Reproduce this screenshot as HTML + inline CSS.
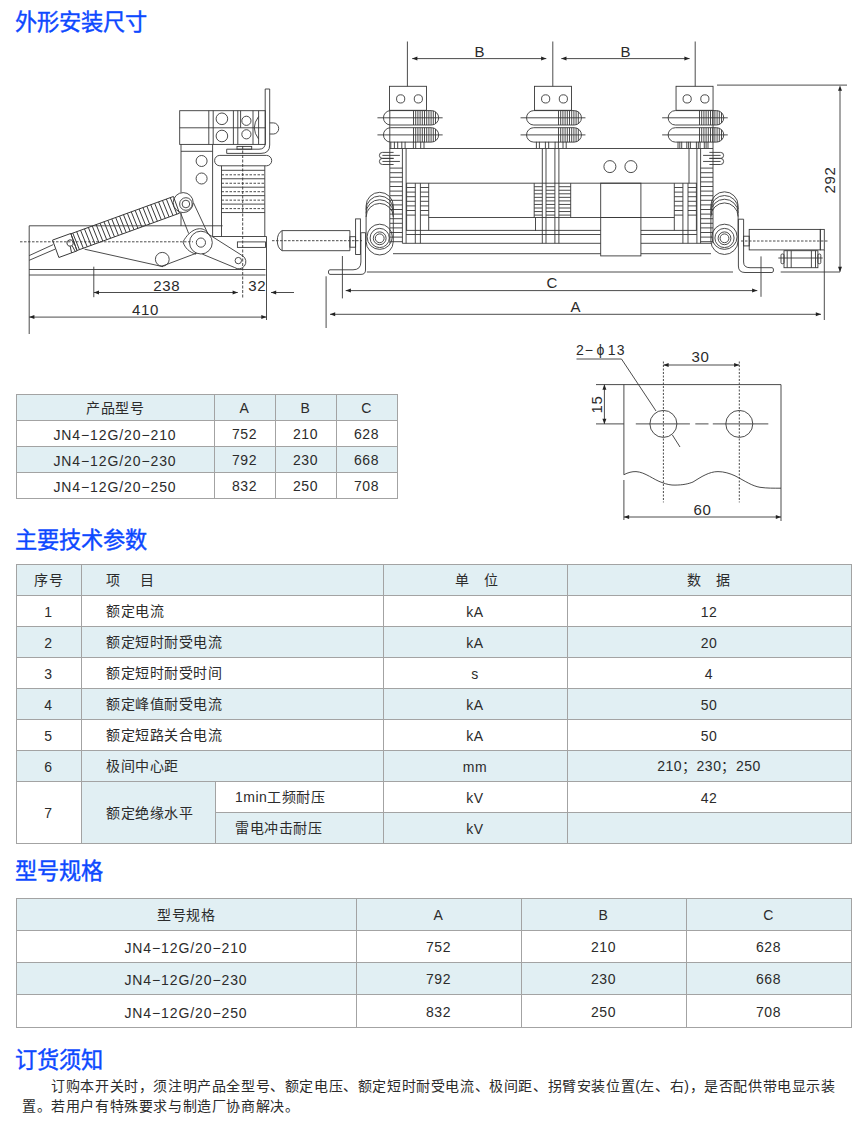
<!DOCTYPE html>
<html lang="zh-CN"><head><meta charset="utf-8"><style>
html,body{margin:0;padding:0;background:#fff;}
body{width:867px;height:1122px;position:relative;overflow:hidden;font-family:"Liberation Sans",sans-serif;}
.h{position:absolute;font-size:22.2px;line-height:26px;color:#0d48ff;white-space:nowrap;letter-spacing:0px;-webkit-text-stroke:0.4px #0d48ff}
.t{position:absolute;display:flex;align-items:center;font-size:14px;color:#2b2b2b;white-space:nowrap;letter-spacing:0.5px}
.l{letter-spacing:0.9px;position:relative;top:1px}
.p{position:absolute;font-size:14px;line-height:20px;color:#2b2b2b;white-space:nowrap;letter-spacing:0.6px}
svg{position:absolute;left:0;top:0} svg text{fill:#2a2a2a;stroke:none}
</style></head><body>
<div class="h" style="left:15px;top:10px">外形安装尺寸</div><div class="h" style="left:15px;top:528px">主要技术参数</div><div class="h" style="left:15px;top:859px">型号规格</div><div class="h" style="left:15px;top:1048px">订货须知</div><div style="position:absolute;left:16px;top:394px;width:381px;height:26px;background:#e1eff3"></div><div style="position:absolute;left:16px;top:420px;width:381px;height:26px;background:#fff"></div><div style="position:absolute;left:16px;top:446px;width:381px;height:26px;background:#e1eff3"></div><div style="position:absolute;left:16px;top:472px;width:381px;height:26px;background:#fff"></div><div style="position:absolute;left:16px;top:394px;width:382px;height:1px;background:#a3a3a3"></div><div style="position:absolute;left:16px;top:420px;width:382px;height:1px;background:#a3a3a3"></div><div style="position:absolute;left:16px;top:446px;width:382px;height:1px;background:#a3a3a3"></div><div style="position:absolute;left:16px;top:472px;width:382px;height:1px;background:#a3a3a3"></div><div style="position:absolute;left:16px;top:498px;width:382px;height:1px;background:#a3a3a3"></div><div style="position:absolute;left:16px;top:394px;width:1px;height:105px;background:#a3a3a3"></div><div style="position:absolute;left:214px;top:394px;width:1px;height:105px;background:#a3a3a3"></div><div style="position:absolute;left:275px;top:394px;width:1px;height:105px;background:#a3a3a3"></div><div style="position:absolute;left:336px;top:394px;width:1px;height:105px;background:#a3a3a3"></div><div style="position:absolute;left:397px;top:394px;width:1px;height:105px;background:#a3a3a3"></div><div class="t" style="left:16px;top:393.5px;width:198px;height:26.0px;justify-content:center">产品型号</div><div class="t" style="left:214px;top:395px;width:61px;height:26px;justify-content:center">A</div><div class="t" style="left:275px;top:395px;width:61px;height:26px;justify-content:center">B</div><div class="t" style="left:336px;top:395px;width:61px;height:26px;justify-content:center">C</div><div class="t" style="left:16px;top:421px;width:198px;height:26px;justify-content:center"><span class="l">JN4−12G/20−210</span></div><div class="t" style="left:214px;top:421px;width:61px;height:26px;justify-content:center">752</div><div class="t" style="left:275px;top:421px;width:61px;height:26px;justify-content:center">210</div><div class="t" style="left:336px;top:421px;width:61px;height:26px;justify-content:center">628</div><div class="t" style="left:16px;top:447px;width:198px;height:26px;justify-content:center"><span class="l">JN4−12G/20−230</span></div><div class="t" style="left:214px;top:447px;width:61px;height:26px;justify-content:center">792</div><div class="t" style="left:275px;top:447px;width:61px;height:26px;justify-content:center">230</div><div class="t" style="left:336px;top:447px;width:61px;height:26px;justify-content:center">668</div><div class="t" style="left:16px;top:473px;width:198px;height:26px;justify-content:center"><span class="l">JN4−12G/20−250</span></div><div class="t" style="left:214px;top:473px;width:61px;height:26px;justify-content:center">832</div><div class="t" style="left:275px;top:473px;width:61px;height:26px;justify-content:center">250</div><div class="t" style="left:336px;top:473px;width:61px;height:26px;justify-content:center">708</div><div style="position:absolute;left:16px;top:564px;width:835px;height:31px;background:#e1eff3"></div><div style="position:absolute;left:16px;top:595px;width:835px;height:31px;background:#fff"></div><div style="position:absolute;left:16px;top:626px;width:835px;height:31px;background:#e1eff3"></div><div style="position:absolute;left:16px;top:657px;width:835px;height:31px;background:#fff"></div><div style="position:absolute;left:16px;top:688px;width:835px;height:31px;background:#e1eff3"></div><div style="position:absolute;left:16px;top:719px;width:835px;height:31px;background:#fff"></div><div style="position:absolute;left:16px;top:750px;width:835px;height:31px;background:#e1eff3"></div><div style="position:absolute;left:16px;top:781px;width:65px;height:62px;background:#fff"></div><div style="position:absolute;left:81px;top:781px;width:134px;height:62px;background:#e1eff3"></div><div style="position:absolute;left:215px;top:781px;width:636px;height:31px;background:#fff"></div><div style="position:absolute;left:215px;top:812px;width:636px;height:31px;background:#e1eff3"></div><div style="position:absolute;left:16px;top:564px;width:836px;height:1px;background:#a3a3a3"></div><div style="position:absolute;left:16px;top:595px;width:836px;height:1px;background:#a3a3a3"></div><div style="position:absolute;left:16px;top:626px;width:836px;height:1px;background:#a3a3a3"></div><div style="position:absolute;left:16px;top:657px;width:836px;height:1px;background:#a3a3a3"></div><div style="position:absolute;left:16px;top:688px;width:836px;height:1px;background:#a3a3a3"></div><div style="position:absolute;left:16px;top:719px;width:836px;height:1px;background:#a3a3a3"></div><div style="position:absolute;left:16px;top:750px;width:836px;height:1px;background:#a3a3a3"></div><div style="position:absolute;left:16px;top:781px;width:836px;height:1px;background:#a3a3a3"></div><div style="position:absolute;left:215px;top:812px;width:637px;height:1px;background:#a3a3a3"></div><div style="position:absolute;left:16px;top:843px;width:836px;height:1px;background:#a3a3a3"></div><div style="position:absolute;left:16px;top:564px;width:1px;height:280px;background:#a3a3a3"></div><div style="position:absolute;left:81px;top:564px;width:1px;height:280px;background:#a3a3a3"></div><div style="position:absolute;left:383px;top:564px;width:1px;height:280px;background:#a3a3a3"></div><div style="position:absolute;left:567px;top:564px;width:1px;height:280px;background:#a3a3a3"></div><div style="position:absolute;left:851px;top:564px;width:1px;height:280px;background:#a3a3a3"></div><div style="position:absolute;left:215px;top:781px;width:1px;height:63px;background:#a3a3a3"></div><div class="t" style="left:16px;top:563.5px;width:65px;height:31.0px;justify-content:center">序号</div><div class="t" style="left:106px;top:563.5px;width:277px;height:31.0px;justify-content:flex-start">项<span style="margin-left:5px">　目</span></div><div class="t" style="left:383px;top:563.5px;width:184px;height:31.0px;justify-content:center"><span style="margin-left:3px">单</span>　位</div><div class="t" style="left:567px;top:563.5px;width:284px;height:31.0px;justify-content:center">数　据</div><div class="t" style="left:16px;top:596px;width:65px;height:31px;justify-content:center">1</div><div class="t" style="left:106px;top:594.5px;width:277px;height:31.0px;justify-content:flex-start">额定电流</div><div class="t" style="left:383px;top:596px;width:184px;height:31px;justify-content:center">kA</div><div class="t" style="left:567px;top:596px;width:284px;height:31px;justify-content:center">12</div><div class="t" style="left:16px;top:627px;width:65px;height:31px;justify-content:center">2</div><div class="t" style="left:106px;top:625.5px;width:277px;height:31.0px;justify-content:flex-start">额定短时耐受电流</div><div class="t" style="left:383px;top:627px;width:184px;height:31px;justify-content:center">kA</div><div class="t" style="left:567px;top:627px;width:284px;height:31px;justify-content:center">20</div><div class="t" style="left:16px;top:658px;width:65px;height:31px;justify-content:center">3</div><div class="t" style="left:106px;top:656.5px;width:277px;height:31.0px;justify-content:flex-start">额定短时耐受时间</div><div class="t" style="left:383px;top:658px;width:184px;height:31px;justify-content:center">s</div><div class="t" style="left:567px;top:658px;width:284px;height:31px;justify-content:center">4</div><div class="t" style="left:16px;top:689px;width:65px;height:31px;justify-content:center">4</div><div class="t" style="left:106px;top:687.5px;width:277px;height:31.0px;justify-content:flex-start">额定峰值耐受电流</div><div class="t" style="left:383px;top:689px;width:184px;height:31px;justify-content:center">kA</div><div class="t" style="left:567px;top:689px;width:284px;height:31px;justify-content:center">50</div><div class="t" style="left:16px;top:720px;width:65px;height:31px;justify-content:center">5</div><div class="t" style="left:106px;top:718.5px;width:277px;height:31.0px;justify-content:flex-start">额定短路关合电流</div><div class="t" style="left:383px;top:720px;width:184px;height:31px;justify-content:center">kA</div><div class="t" style="left:567px;top:720px;width:284px;height:31px;justify-content:center">50</div><div class="t" style="left:16px;top:751px;width:65px;height:31px;justify-content:center">6</div><div class="t" style="left:106px;top:749.5px;width:277px;height:31.0px;justify-content:flex-start">极间中心距</div><div class="t" style="left:383px;top:751px;width:184px;height:31px;justify-content:center">mm</div><div class="t" style="left:567px;top:749.5px;width:284px;height:31.0px;justify-content:center">210；230；250</div><div class="t" style="left:16px;top:782px;width:65px;height:62px;justify-content:center">7</div><div class="t" style="left:106px;top:780.5px;width:109px;height:62.0px;justify-content:flex-start">额定绝缘水平</div><div class="t" style="left:235px;top:780.5px;width:148px;height:31.0px;justify-content:flex-start">1min工频耐压</div><div class="t" style="left:235px;top:811.5px;width:148px;height:31.0px;justify-content:flex-start">雷电冲击耐压</div><div class="t" style="left:383px;top:782px;width:184px;height:31px;justify-content:center">kV</div><div class="t" style="left:383px;top:813px;width:184px;height:31px;justify-content:center">kV</div><div class="t" style="left:567px;top:782px;width:284px;height:31px;justify-content:center">42</div><div style="position:absolute;left:16px;top:898px;width:835px;height:32px;background:#e1eff3"></div><div style="position:absolute;left:16px;top:930px;width:835px;height:32px;background:#fff"></div><div style="position:absolute;left:16px;top:962px;width:835px;height:32px;background:#e1eff3"></div><div style="position:absolute;left:16px;top:994px;width:835px;height:33px;background:#fff"></div><div style="position:absolute;left:16px;top:898px;width:836px;height:1px;background:#a3a3a3"></div><div style="position:absolute;left:16px;top:930px;width:836px;height:1px;background:#a3a3a3"></div><div style="position:absolute;left:16px;top:962px;width:836px;height:1px;background:#a3a3a3"></div><div style="position:absolute;left:16px;top:994px;width:836px;height:1px;background:#a3a3a3"></div><div style="position:absolute;left:16px;top:1027px;width:836px;height:1px;background:#a3a3a3"></div><div style="position:absolute;left:16px;top:898px;width:1px;height:130px;background:#a3a3a3"></div><div style="position:absolute;left:356px;top:898px;width:1px;height:130px;background:#a3a3a3"></div><div style="position:absolute;left:521px;top:898px;width:1px;height:130px;background:#a3a3a3"></div><div style="position:absolute;left:686px;top:898px;width:1px;height:130px;background:#a3a3a3"></div><div style="position:absolute;left:851px;top:898px;width:1px;height:130px;background:#a3a3a3"></div><div class="t" style="left:16px;top:897.5px;width:340px;height:32.0px;justify-content:center">型号规格</div><div class="t" style="left:356px;top:899px;width:165px;height:32px;justify-content:center">A</div><div class="t" style="left:521px;top:899px;width:165px;height:32px;justify-content:center">B</div><div class="t" style="left:686px;top:899px;width:165px;height:32px;justify-content:center">C</div><div class="t" style="left:16px;top:931px;width:340px;height:32px;justify-content:center"><span class="l">JN4−12G/20−210</span></div><div class="t" style="left:356px;top:931px;width:165px;height:32px;justify-content:center">752</div><div class="t" style="left:521px;top:931px;width:165px;height:32px;justify-content:center">210</div><div class="t" style="left:686px;top:931px;width:165px;height:32px;justify-content:center">628</div><div class="t" style="left:16px;top:963px;width:340px;height:32px;justify-content:center"><span class="l">JN4−12G/20−230</span></div><div class="t" style="left:356px;top:963px;width:165px;height:32px;justify-content:center">792</div><div class="t" style="left:521px;top:963px;width:165px;height:32px;justify-content:center">230</div><div class="t" style="left:686px;top:963px;width:165px;height:32px;justify-content:center">668</div><div class="t" style="left:16px;top:995px;width:340px;height:33px;justify-content:center"><span class="l">JN4−12G/20−250</span></div><div class="t" style="left:356px;top:995px;width:165px;height:33px;justify-content:center">832</div><div class="t" style="left:521px;top:995px;width:165px;height:33px;justify-content:center">250</div><div class="t" style="left:686px;top:995px;width:165px;height:33px;justify-content:center">708</div><div class="p" style="left:22px;top:1076px">　　订购本开关时，须注明产品全型号、额定电压、额定短时耐受电流、极间距、拐臂安装位置(左、右)，是否配供带电显示装<br>置。若用户有特殊要求与制造厂协商解决。</div><svg width="867" height="1122" viewBox="0 0 867 1122"><g fill="none" stroke="#383838" stroke-width="0.9" font-family="Liberation Sans, sans-serif">
<g class="txt"></g><text x="576" y="354.5" font-size="14"><tspan>2</tspan><tspan dx="1">−</tspan><tspan dx="3.5">ϕ</tspan><tspan dx="3.5">1</tspan><tspan dx="1">3</tspan></text>
<line x1="576.5" y1="359" x2="621.5" y2="359"/>
<line x1="621.5" y1="359" x2="656" y2="411"/>
<line x1="672.4" y1="435" x2="680" y2="447"/>
<line x1="596" y1="384.6" x2="781" y2="384.6"/>
<line x1="623.9" y1="384.6" x2="623.9" y2="474.8"/>
<line x1="623.9" y1="480" x2="623.9" y2="520"/>
<line x1="781" y1="384.6" x2="781" y2="521"/>
<path d="M623.9,474.7 C628,472.5 632,471.5 636,471.6 C645,472 654,480 662,482.5 C667,484.5 671,485.2 675,485.1 C683,485 688,484 693,482 C701,477 709,471.6 718,471.6 C724,471.6 730,473.5 735,475.8 C745,481 752,486 760,487.3 C767,488.3 774,488.2 781,488.2"/>
<line x1="635.8" y1="423.9" x2="689.9" y2="423.9"/>
<line x1="695.3" y1="423.9" x2="708.5" y2="423.9"/>
<line x1="712.8" y1="423.9" x2="768.3" y2="423.9"/>
<circle cx="663.4" cy="423.9" r="13.5"/>
<circle cx="739.3" cy="423.9" r="13.5"/>
<line x1="663.4" y1="361.5" x2="663.4" y2="502.4" stroke-dasharray="2,1.5"/>
<line x1="739.3" y1="361.5" x2="739.3" y2="502.4" stroke-dasharray="2,1.5"/>
<line x1="663.4" y1="365" x2="739.3" y2="365"/>
<polygon points="663.4,365 668.6,363 668.6,367" fill="#222" stroke="none"/>
<polygon points="739.3,365 734.1,363 734.1,367" fill="#222" stroke="none"/>
<text x="700.5" y="361.5" font-size="15" text-anchor="middle" letter-spacing="0.6">30</text>
<line x1="596" y1="423.9" x2="623.9" y2="423.9"/>
<line x1="604.4" y1="384.6" x2="604.4" y2="423.9"/>
<polygon points="604.4,384.6 602.4,389.8 606.4,389.8" fill="#222" stroke="none"/>
<polygon points="604.4,423.9 602.4,418.7 606.4,418.7" fill="#222" stroke="none"/>
<text x="602" y="404.5" font-size="15" text-anchor="middle" letter-spacing="0.6" transform="rotate(-90 602 404.5)">15</text>
<line x1="623.9" y1="517" x2="781" y2="517"/>
<polygon points="623.9,517 629.1,515 629.1,519" fill="#222" stroke="none"/>
<polygon points="781,517 775.8,515 775.8,519" fill="#222" stroke="none"/>
<text x="702.4" y="515.3" font-size="15" text-anchor="middle" letter-spacing="0.6">60</text>
<rect x="179.7" y="110.7" width="85.6" height="33.7"/>
<line x1="179.7" y1="127.8" x2="265.3" y2="127.8"/>
<line x1="208.8" y1="110.7" x2="208.8" y2="144.4"/>
<line x1="213.2" y1="110.7" x2="213.2" y2="144.4"/>
<line x1="233.4" y1="110.7" x2="233.4" y2="144.4"/>
<line x1="237.8" y1="110.7" x2="237.8" y2="144.4"/>
<line x1="253" y1="110.7" x2="253" y2="144.4"/>
<line x1="258.6" y1="110.7" x2="258.6" y2="144.4"/>
<line x1="240.6" y1="110.7" x2="240.6" y2="127.8"/>
<circle cx="221.9" cy="118.8" r="5.8"/>
<circle cx="221.9" cy="136" r="5.8"/>
<circle cx="246.4" cy="120.8" r="4.6"/>
<circle cx="246.4" cy="134.3" r="4.6"/>
<path d="M258.6,116.5 Q250,127.8 258.6,139"/>
<path d="M265.2,89 L269.7,89 L269.7,145 Q269.7,153.4 261,153.4 L226.7,153.4 L226.7,149.2 L259,149.2 Q265.2,149.2 265.2,143 Z"/>
<path d="M269.7,122.9 L273.5,122.9 A5.2,5.55 0 0 1 273.5,134 L269.7,134"/>
<rect x="237" y="146.4" width="14.7" height="2.8"/>
<line x1="181" y1="144.4" x2="181" y2="192.6"/>
<line x1="181" y1="212.8" x2="181" y2="226"/>
<line x1="212.6" y1="144.4" x2="212.6" y2="236.5"/>
<line x1="181" y1="151.3" x2="212.6" y2="151.3"/>
<circle cx="201.6" cy="161" r="5.5"/>
<circle cx="201.6" cy="178.5" r="5.5"/>
<rect x="214.6" y="155.4" width="57.1" height="10.4" rx="5.2"/>
<line x1="221.5" y1="165.8" x2="221.5" y2="236.5"/>
<line x1="264.8" y1="165.8" x2="264.8" y2="236.5"/>
<line x1="221.5" y1="170.3" x2="264.8" y2="170.3"/>
<line x1="221.5" y1="178.75" x2="264.8" y2="178.75"/>
<line x1="221.5" y1="187.2" x2="264.8" y2="187.2"/>
<line x1="221.5" y1="195.65" x2="264.8" y2="195.65"/>
<line x1="221.5" y1="204.1" x2="264.8" y2="204.1"/>
<line x1="221.5" y1="212.55" x2="264.8" y2="212.55"/>
<line x1="221.5" y1="174.8" x2="264.8" y2="174.8" stroke-dasharray="2.5,1.5"/>
<line x1="221.5" y1="183.25" x2="264.8" y2="183.25" stroke-dasharray="2.5,1.5"/>
<line x1="221.5" y1="191.7" x2="264.8" y2="191.7" stroke-dasharray="2.5,1.5"/>
<line x1="221.5" y1="200.15" x2="264.8" y2="200.15" stroke-dasharray="2.5,1.5"/>
<line x1="221.5" y1="208.6" x2="264.8" y2="208.6" stroke-dasharray="2.5,1.5"/>
<line x1="242.7" y1="146" x2="242.7" y2="299" stroke-dasharray="3,1.5"/>
<line x1="29.2" y1="225.8" x2="222.6" y2="225.8"/>
<line x1="29.2" y1="225.8" x2="29.2" y2="334"/>
<line x1="29.2" y1="269.5" x2="265.5" y2="269.5"/>
<line x1="29.2" y1="275" x2="265.5" y2="275"/>
<line x1="212.6" y1="236.5" x2="266.5" y2="236.5"/>
<line x1="266.5" y1="236.5" x2="266.5" y2="320"/>
<rect x="237.4" y="241.9" width="28.1" height="5.5"/>
<line x1="20" y1="241.8" x2="193" y2="241.8" stroke-dasharray="2.5,1.5"/>
<line x1="29.2" y1="255.6" x2="53.2" y2="244.6"/>
<line x1="29.2" y1="260.3" x2="55" y2="249.2"/>
<g transform="translate(55.7 248.8) rotate(-20)">
<rect x="0" y="-9.25" width="19.4" height="18.5"/>
<circle cx="15.5" cy="-0.5" r="3.2"/>
<line x1="14.5" y1="2.7" x2="13.5" y2="9.25"/>
<line x1="16.5" y1="2.7" x2="17.5" y2="9.25"/>
<rect x="19.4" y="-8.9" width="109.1" height="17.8"/>
<line x1="21.4" y1="-8.9" x2="22" y2="8.9"/>
<line x1="25.55" y1="-8.9" x2="26.15" y2="8.9"/>
<line x1="29.7" y1="-8.9" x2="30.3" y2="8.9"/>
<line x1="33.85" y1="-8.9" x2="34.45" y2="8.9"/>
<line x1="38" y1="-8.9" x2="38.6" y2="8.9"/>
<line x1="42.15" y1="-8.9" x2="42.75" y2="8.9"/>
<line x1="46.3" y1="-8.9" x2="46.9" y2="8.9"/>
<line x1="50.45" y1="-8.9" x2="51.05" y2="8.9"/>
<line x1="54.6" y1="-8.9" x2="55.2" y2="8.9"/>
<line x1="58.75" y1="-8.9" x2="59.35" y2="8.9"/>
<line x1="62.9" y1="-8.9" x2="63.5" y2="8.9"/>
<line x1="67.05" y1="-8.9" x2="67.65" y2="8.9"/>
<line x1="71.2" y1="-8.9" x2="71.8" y2="8.9"/>
<line x1="75.35" y1="-8.9" x2="75.95" y2="8.9"/>
<line x1="79.5" y1="-8.9" x2="80.1" y2="8.9"/>
<line x1="83.65" y1="-8.9" x2="84.25" y2="8.9"/>
<line x1="87.8" y1="-8.9" x2="88.4" y2="8.9"/>
<line x1="91.95" y1="-8.9" x2="92.55" y2="8.9"/>
<line x1="96.1" y1="-8.9" x2="96.7" y2="8.9"/>
<line x1="100.25" y1="-8.9" x2="100.85" y2="8.9"/>
<line x1="104.4" y1="-8.9" x2="105" y2="8.9"/>
<line x1="108.55" y1="-8.9" x2="109.15" y2="8.9"/>
<line x1="112.7" y1="-8.9" x2="113.3" y2="8.9"/>
<line x1="116.85" y1="-8.9" x2="117.45" y2="8.9"/>
<line x1="121" y1="-8.9" x2="121.6" y2="8.9"/>
<line x1="125.15" y1="-8.9" x2="125.75" y2="8.9"/>
</g>
<line x1="84.6" y1="249.2" x2="163" y2="266.7"/>
<line x1="162" y1="266.2" x2="196.9" y2="253"/>
<circle cx="162.3" cy="259.3" r="6.9"/>
<circle cx="183.2" cy="202.6" r="10"/>
<circle cx="185.9" cy="204" r="6.3"/>
<circle cx="185.9" cy="204" r="3.8"/>
<line x1="180.4" y1="212.5" x2="188.7" y2="233.6"/>
<line x1="193.5" y1="202.9" x2="207.8" y2="233.4"/>
<path d="M208.7,234.3 C206,230 203,228.6 199.5,228.7 C192,229 186,236 183,242 C185,248 189,252 196,254.2"/>
<circle cx="200.9" cy="242.6" r="11.4"/>
<circle cx="200.9" cy="242.6" r="4.6"/>
<line x1="208.7" y1="234.3" x2="242.9" y2="256"/>
<line x1="202.3" y1="254.1" x2="234.6" y2="267.5"/>
<path d="M242.9,256 A6.4,6.4 0 0 1 234.6,267.5"/>
<circle cx="238.3" cy="260.6" r="3.2"/>
<line x1="93.8" y1="266.7" x2="93.8" y2="297.2"/>
<line x1="93.8" y1="292.5" x2="237.8" y2="292.5"/>
<polygon points="93.8,292.5 99,290.5 99,294.5" fill="#222" stroke="none"/>
<polygon points="237.8,292.5 232.6,290.5 232.6,294.5" fill="#222" stroke="none"/>
<line x1="271" y1="292.5" x2="294" y2="292.5"/>
<polygon points="271,292.5 276.2,290.5 276.2,294.5" fill="#222" stroke="none"/>
<text x="166.7" y="290.7" font-size="15" text-anchor="middle" letter-spacing="0.6">238</text>
<text x="257.2" y="291" font-size="15" text-anchor="middle" letter-spacing="0.6">32</text>
<line x1="29.2" y1="317.1" x2="266.5" y2="317.1"/>
<polygon points="29.2,317.1 34.4,315.1 34.4,319.1" fill="#222" stroke="none"/>
<polygon points="266.5,317.1 261.3,315.1 261.3,319.1" fill="#222" stroke="none"/>
<text x="145.5" y="314.7" font-size="15" text-anchor="middle" letter-spacing="0.6">410</text>
<rect x="389.55" y="86.3" width="37" height="24"/>
<circle cx="400.65" cy="98.9" r="4.1"/>
<circle cx="418.35" cy="98.9" r="4.1"/>
<path d="M390.65,110.6 L431.45,110.6 A7.2,7.2 0 0 1 431.45,125 L390.65,125 A7.2,7.2 0 0 1 390.65,110.6 Z"/>
<line x1="377.45" y1="117.8" x2="442.65" y2="117.8"/>
<line x1="413.5" y1="110.6" x2="413.5" y2="125"/>
<line x1="415.7" y1="110.6" x2="415.7" y2="125"/>
<line x1="417.9" y1="110.6" x2="417.9" y2="125"/>
<line x1="420.1" y1="110.6" x2="420.1" y2="125"/>
<line x1="422.3" y1="110.6" x2="422.3" y2="125"/>
<line x1="424.5" y1="110.6" x2="424.5" y2="125"/>
<line x1="426.7" y1="110.6" x2="426.7" y2="125"/>
<line x1="428.9" y1="110.6" x2="428.9" y2="125"/>
<line x1="431.1" y1="110.6" x2="431.1" y2="125"/>
<line x1="433.3" y1="110.84" x2="433.3" y2="124.76"/>
<line x1="435.5" y1="111.85" x2="435.5" y2="123.75"/>
<path d="M390.65,127.7 L431.45,127.7 A7.2,7.2 0 0 1 431.45,142.1 L390.65,142.1 A7.2,7.2 0 0 1 390.65,127.7 Z"/>
<line x1="377.45" y1="134.9" x2="442.65" y2="134.9"/>
<line x1="413.5" y1="127.7" x2="413.5" y2="142.1"/>
<line x1="415.7" y1="127.7" x2="415.7" y2="142.1"/>
<line x1="417.9" y1="127.7" x2="417.9" y2="142.1"/>
<line x1="420.1" y1="127.7" x2="420.1" y2="142.1"/>
<line x1="422.3" y1="127.7" x2="422.3" y2="142.1"/>
<line x1="424.5" y1="127.7" x2="424.5" y2="142.1"/>
<line x1="426.7" y1="127.7" x2="426.7" y2="142.1"/>
<line x1="428.9" y1="127.7" x2="428.9" y2="142.1"/>
<line x1="431.1" y1="127.7" x2="431.1" y2="142.1"/>
<line x1="433.3" y1="127.94" x2="433.3" y2="141.86"/>
<line x1="435.5" y1="128.95" x2="435.5" y2="140.85"/>
<line x1="390.8" y1="141.8" x2="390.8" y2="148.5"/>
<line x1="394.4" y1="141.8" x2="394.4" y2="148.5"/>
<line x1="397.7" y1="141.8" x2="397.7" y2="148.5"/>
<line x1="401.8" y1="141.8" x2="401.8" y2="148.5"/>
<line x1="405.1" y1="141.8" x2="405.1" y2="148.5"/>
<line x1="413.4" y1="141.8" x2="413.4" y2="148.5"/>
<line x1="415.7" y1="141.8" x2="415.7" y2="148.5"/>
<line x1="420.7" y1="141.8" x2="420.7" y2="148.5"/>
<line x1="424" y1="141.8" x2="424" y2="148.5"/>
<rect x="534.55" y="86.3" width="37" height="24"/>
<circle cx="545.65" cy="98.9" r="4.1"/>
<circle cx="563.35" cy="98.9" r="4.1"/>
<path d="M533.75,110.6 L574.25,110.6 A7.2,7.2 0 0 1 574.25,125 L533.75,125 A7.2,7.2 0 0 1 533.75,110.6 Z"/>
<line x1="520.55" y1="117.8" x2="585.45" y2="117.8"/>
<line x1="558.5" y1="110.6" x2="558.5" y2="125"/>
<line x1="560.7" y1="110.6" x2="560.7" y2="125"/>
<line x1="562.9" y1="110.6" x2="562.9" y2="125"/>
<line x1="565.1" y1="110.6" x2="565.1" y2="125"/>
<line x1="567.3" y1="110.6" x2="567.3" y2="125"/>
<line x1="569.5" y1="110.6" x2="569.5" y2="125"/>
<line x1="571.7" y1="110.6" x2="571.7" y2="125"/>
<line x1="573.9" y1="110.6" x2="573.9" y2="125"/>
<line x1="576.1" y1="110.84" x2="576.1" y2="124.76"/>
<line x1="578.3" y1="111.85" x2="578.3" y2="123.75"/>
<path d="M533.75,127.7 L574.25,127.7 A7.2,7.2 0 0 1 574.25,142.1 L533.75,142.1 A7.2,7.2 0 0 1 533.75,127.7 Z"/>
<line x1="520.55" y1="134.9" x2="585.45" y2="134.9"/>
<line x1="558.5" y1="127.7" x2="558.5" y2="142.1"/>
<line x1="560.7" y1="127.7" x2="560.7" y2="142.1"/>
<line x1="562.9" y1="127.7" x2="562.9" y2="142.1"/>
<line x1="565.1" y1="127.7" x2="565.1" y2="142.1"/>
<line x1="567.3" y1="127.7" x2="567.3" y2="142.1"/>
<line x1="569.5" y1="127.7" x2="569.5" y2="142.1"/>
<line x1="571.7" y1="127.7" x2="571.7" y2="142.1"/>
<line x1="573.9" y1="127.7" x2="573.9" y2="142.1"/>
<line x1="576.1" y1="127.94" x2="576.1" y2="141.86"/>
<line x1="578.3" y1="128.95" x2="578.3" y2="140.85"/>
<line x1="536.4" y1="141.8" x2="536.4" y2="148.5"/>
<line x1="539.4" y1="141.8" x2="539.4" y2="148.5"/>
<line x1="545.4" y1="141.8" x2="545.4" y2="148.5"/>
<line x1="548.7" y1="141.8" x2="548.7" y2="148.5"/>
<line x1="555.1" y1="141.8" x2="555.1" y2="148.5"/>
<line x1="558.4" y1="141.8" x2="558.4" y2="148.5"/>
<line x1="563" y1="141.8" x2="563" y2="148.5"/>
<line x1="566.2" y1="141.8" x2="566.2" y2="148.5"/>
<rect x="676.05" y="86.3" width="37" height="24"/>
<circle cx="687.15" cy="98.9" r="4.1"/>
<circle cx="704.85" cy="98.9" r="4.1"/>
<path d="M675.35,110.6 L716.55,110.6 A7.2,7.2 0 0 1 716.55,125 L675.35,125 A7.2,7.2 0 0 1 675.35,110.6 Z"/>
<line x1="662.15" y1="117.8" x2="727.75" y2="117.8"/>
<line x1="699.5" y1="110.6" x2="699.5" y2="125"/>
<line x1="701.7" y1="110.6" x2="701.7" y2="125"/>
<line x1="703.9" y1="110.6" x2="703.9" y2="125"/>
<line x1="706.1" y1="110.6" x2="706.1" y2="125"/>
<line x1="708.3" y1="110.6" x2="708.3" y2="125"/>
<line x1="710.5" y1="110.6" x2="710.5" y2="125"/>
<line x1="712.7" y1="110.6" x2="712.7" y2="125"/>
<line x1="714.9" y1="110.6" x2="714.9" y2="125"/>
<line x1="717.1" y1="110.62" x2="717.1" y2="124.98"/>
<line x1="719.3" y1="111.15" x2="719.3" y2="124.45"/>
<line x1="721.5" y1="112.57" x2="721.5" y2="123.03"/>
<path d="M675.35,127.7 L716.55,127.7 A7.2,7.2 0 0 1 716.55,142.1 L675.35,142.1 A7.2,7.2 0 0 1 675.35,127.7 Z"/>
<line x1="662.15" y1="134.9" x2="727.75" y2="134.9"/>
<line x1="699.5" y1="127.7" x2="699.5" y2="142.1"/>
<line x1="701.7" y1="127.7" x2="701.7" y2="142.1"/>
<line x1="703.9" y1="127.7" x2="703.9" y2="142.1"/>
<line x1="706.1" y1="127.7" x2="706.1" y2="142.1"/>
<line x1="708.3" y1="127.7" x2="708.3" y2="142.1"/>
<line x1="710.5" y1="127.7" x2="710.5" y2="142.1"/>
<line x1="712.7" y1="127.7" x2="712.7" y2="142.1"/>
<line x1="714.9" y1="127.7" x2="714.9" y2="142.1"/>
<line x1="717.1" y1="127.72" x2="717.1" y2="142.08"/>
<line x1="719.3" y1="128.25" x2="719.3" y2="141.55"/>
<line x1="721.5" y1="129.67" x2="721.5" y2="140.13"/>
<line x1="678" y1="141.8" x2="678" y2="148.5"/>
<line x1="679.8" y1="141.8" x2="679.8" y2="148.5"/>
<line x1="681.7" y1="141.8" x2="681.7" y2="148.5"/>
<line x1="686.8" y1="141.8" x2="686.8" y2="148.5"/>
<line x1="688.6" y1="141.8" x2="688.6" y2="148.5"/>
<line x1="690.4" y1="141.8" x2="690.4" y2="148.5"/>
<line x1="696.4" y1="141.8" x2="696.4" y2="148.5"/>
<line x1="698.3" y1="141.8" x2="698.3" y2="148.5"/>
<line x1="700.1" y1="141.8" x2="700.1" y2="148.5"/>
<line x1="704.3" y1="141.8" x2="704.3" y2="148.5"/>
<line x1="706.1" y1="141.8" x2="706.1" y2="148.5"/>
<line x1="708" y1="141.8" x2="708" y2="148.5"/>
<line x1="407.4" y1="41.5" x2="407.4" y2="86.3"/>
<line x1="552.8" y1="41.5" x2="552.8" y2="86.3"/>
<line x1="695.2" y1="41.5" x2="695.2" y2="86.3"/>
<line x1="412.2" y1="58.6" x2="546.3" y2="58.6"/>
<polygon points="412.2,58.6 417.4,56.6 417.4,60.6" fill="#222" stroke="none"/>
<polygon points="546.3,58.6 541.1,56.6 541.1,60.6" fill="#222" stroke="none"/>
<line x1="561.3" y1="58.6" x2="689.6" y2="58.6"/>
<polygon points="561.3,58.6 566.5,56.6 566.5,60.6" fill="#222" stroke="none"/>
<polygon points="689.6,58.6 684.4,56.6 684.4,60.6" fill="#222" stroke="none"/>
<text x="479.4" y="57.3" font-size="15" text-anchor="middle">B</text>
<text x="625.5" y="57.2" font-size="15" text-anchor="middle">B</text>
<line x1="389.8" y1="110.3" x2="389.8" y2="243.3"/>
<line x1="713" y1="110.3" x2="713" y2="243.3"/>
<line x1="389.8" y1="148.5" x2="713" y2="148.5"/>
<line x1="402.4" y1="148.5" x2="402.4" y2="243.3"/>
<line x1="406.1" y1="148.5" x2="406.1" y2="243.3"/>
<line x1="700.6" y1="148.5" x2="700.6" y2="243.3"/>
<line x1="696.9" y1="148.5" x2="696.9" y2="243.3"/>
<line x1="390" y1="168.1" x2="402.4" y2="168.1"/>
<line x1="390" y1="172.7" x2="402.4" y2="172.7"/>
<line x1="390" y1="177.3" x2="402.4" y2="177.3"/>
<line x1="390" y1="181.9" x2="402.4" y2="181.9"/>
<line x1="390" y1="186.5" x2="402.4" y2="186.5"/>
<line x1="390" y1="191.1" x2="402.4" y2="191.1"/>
<line x1="390" y1="195.7" x2="402.4" y2="195.7"/>
<line x1="390" y1="200.3" x2="402.4" y2="200.3"/>
<line x1="390" y1="204.9" x2="402.4" y2="204.9"/>
<line x1="390" y1="209.5" x2="402.4" y2="209.5"/>
<line x1="390" y1="214.1" x2="402.4" y2="214.1"/>
<line x1="390" y1="218.7" x2="402.4" y2="218.7"/>
<line x1="390" y1="223.3" x2="402.4" y2="223.3"/>
<line x1="390" y1="227.9" x2="402.4" y2="227.9"/>
<line x1="390" y1="232.5" x2="402.4" y2="232.5"/>
<line x1="390" y1="237.1" x2="402.4" y2="237.1"/>
<line x1="390" y1="241.7" x2="402.4" y2="241.7"/>
<line x1="700.6" y1="168.1" x2="713" y2="168.1"/>
<line x1="700.6" y1="172.7" x2="713" y2="172.7"/>
<line x1="700.6" y1="177.3" x2="713" y2="177.3"/>
<line x1="700.6" y1="181.9" x2="713" y2="181.9"/>
<line x1="700.6" y1="186.5" x2="713" y2="186.5"/>
<line x1="700.6" y1="191.1" x2="713" y2="191.1"/>
<line x1="700.6" y1="195.7" x2="713" y2="195.7"/>
<line x1="700.6" y1="200.3" x2="713" y2="200.3"/>
<line x1="700.6" y1="204.9" x2="713" y2="204.9"/>
<line x1="700.6" y1="209.5" x2="713" y2="209.5"/>
<line x1="700.6" y1="214.1" x2="713" y2="214.1"/>
<line x1="700.6" y1="218.7" x2="713" y2="218.7"/>
<line x1="700.6" y1="223.3" x2="713" y2="223.3"/>
<line x1="700.6" y1="227.9" x2="713" y2="227.9"/>
<line x1="700.6" y1="232.5" x2="713" y2="232.5"/>
<line x1="700.6" y1="237.1" x2="713" y2="237.1"/>
<line x1="700.6" y1="241.7" x2="713" y2="241.7"/>
<line x1="406.1" y1="183.2" x2="696.9" y2="183.2"/>
<circle cx="609.9" cy="166.6" r="6"/>
<circle cx="630.9" cy="166.6" r="6"/>
<line x1="406.6" y1="183.2" x2="406.6" y2="230.4"/>
<line x1="415.3" y1="183.2" x2="415.3" y2="243.3"/>
<line x1="420.4" y1="183.2" x2="420.4" y2="243.3"/>
<line x1="428.7" y1="183.2" x2="428.7" y2="230.4"/>
<line x1="406.6" y1="187.5" x2="415.3" y2="187.5"/>
<line x1="406.6" y1="192.1" x2="415.3" y2="192.1"/>
<line x1="406.6" y1="196.7" x2="415.3" y2="196.7"/>
<line x1="406.6" y1="201.3" x2="415.3" y2="201.3"/>
<line x1="406.6" y1="205.9" x2="415.3" y2="205.9"/>
<line x1="406.6" y1="210.5" x2="415.3" y2="210.5"/>
<line x1="406.6" y1="215.1" x2="415.3" y2="215.1"/>
<line x1="420.4" y1="187.5" x2="428.7" y2="187.5"/>
<line x1="420.4" y1="192.1" x2="428.7" y2="192.1"/>
<line x1="420.4" y1="196.7" x2="428.7" y2="196.7"/>
<line x1="420.4" y1="201.3" x2="428.7" y2="201.3"/>
<line x1="420.4" y1="205.9" x2="428.7" y2="205.9"/>
<line x1="420.4" y1="210.5" x2="428.7" y2="210.5"/>
<line x1="420.4" y1="215.1" x2="428.7" y2="215.1"/>
<line x1="674.3" y1="183.2" x2="674.3" y2="230.4"/>
<line x1="682.9" y1="183.2" x2="682.9" y2="243.3"/>
<line x1="688" y1="183.2" x2="688" y2="243.3"/>
<line x1="696.4" y1="183.2" x2="696.4" y2="230.4"/>
<line x1="674.3" y1="187.5" x2="682.9" y2="187.5"/>
<line x1="674.3" y1="192.1" x2="682.9" y2="192.1"/>
<line x1="674.3" y1="196.7" x2="682.9" y2="196.7"/>
<line x1="674.3" y1="201.3" x2="682.9" y2="201.3"/>
<line x1="674.3" y1="205.9" x2="682.9" y2="205.9"/>
<line x1="674.3" y1="210.5" x2="682.9" y2="210.5"/>
<line x1="674.3" y1="215.1" x2="682.9" y2="215.1"/>
<line x1="688" y1="187.5" x2="696.4" y2="187.5"/>
<line x1="688" y1="192.1" x2="696.4" y2="192.1"/>
<line x1="688" y1="196.7" x2="696.4" y2="196.7"/>
<line x1="688" y1="201.3" x2="696.4" y2="201.3"/>
<line x1="688" y1="205.9" x2="696.4" y2="205.9"/>
<line x1="688" y1="210.5" x2="696.4" y2="210.5"/>
<line x1="688" y1="215.1" x2="696.4" y2="215.1"/>
<line x1="542.3" y1="148.5" x2="542.3" y2="243.3"/>
<line x1="546" y1="148.5" x2="546" y2="243.3"/>
<line x1="554.9" y1="148.5" x2="554.9" y2="243.3"/>
<line x1="558.9" y1="148.5" x2="558.9" y2="243.3"/>
<line x1="534.2" y1="183.2" x2="534.2" y2="217.5"/>
<line x1="570.7" y1="183.2" x2="570.7" y2="217.5"/>
<line x1="534.2" y1="186.7" x2="542.3" y2="186.7"/>
<line x1="534.2" y1="190.25" x2="542.3" y2="190.25"/>
<line x1="534.2" y1="193.8" x2="542.3" y2="193.8"/>
<line x1="534.2" y1="197.35" x2="542.3" y2="197.35"/>
<line x1="534.2" y1="200.9" x2="542.3" y2="200.9"/>
<line x1="534.2" y1="204.45" x2="542.3" y2="204.45"/>
<line x1="534.2" y1="208" x2="542.3" y2="208"/>
<line x1="534.2" y1="211.55" x2="542.3" y2="211.55"/>
<line x1="534.2" y1="215.1" x2="542.3" y2="215.1"/>
<line x1="546" y1="186.7" x2="554.9" y2="186.7"/>
<line x1="546" y1="190.25" x2="554.9" y2="190.25"/>
<line x1="546" y1="193.8" x2="554.9" y2="193.8"/>
<line x1="546" y1="197.35" x2="554.9" y2="197.35"/>
<line x1="546" y1="200.9" x2="554.9" y2="200.9"/>
<line x1="546" y1="204.45" x2="554.9" y2="204.45"/>
<line x1="546" y1="208" x2="554.9" y2="208"/>
<line x1="546" y1="211.55" x2="554.9" y2="211.55"/>
<line x1="546" y1="215.1" x2="554.9" y2="215.1"/>
<line x1="558.9" y1="186.7" x2="570.7" y2="186.7"/>
<line x1="558.9" y1="190.25" x2="570.7" y2="190.25"/>
<line x1="558.9" y1="193.8" x2="570.7" y2="193.8"/>
<line x1="558.9" y1="197.35" x2="570.7" y2="197.35"/>
<line x1="558.9" y1="200.9" x2="570.7" y2="200.9"/>
<line x1="558.9" y1="204.45" x2="570.7" y2="204.45"/>
<line x1="558.9" y1="208" x2="570.7" y2="208"/>
<line x1="558.9" y1="211.55" x2="570.7" y2="211.55"/>
<line x1="558.9" y1="215.1" x2="570.7" y2="215.1"/>
<line x1="535.5" y1="217.5" x2="535.5" y2="230.9"/>
<line x1="689" y1="148.5" x2="689" y2="183.2"/>
<line x1="428.7" y1="217.5" x2="674.3" y2="217.5"/>
<line x1="406.1" y1="230.4" x2="600.7" y2="230.4"/>
<line x1="640.9" y1="230.4" x2="696.9" y2="230.4"/>
<line x1="406.1" y1="234.5" x2="600.7" y2="234.5"/>
<line x1="640.9" y1="234.5" x2="696.9" y2="234.5"/>
<line x1="402.4" y1="243.3" x2="600.7" y2="243.3"/>
<line x1="640.9" y1="243.3" x2="711.3" y2="243.3"/>
<line x1="393" y1="253.7" x2="600.7" y2="253.7"/>
<line x1="640.9" y1="253.7" x2="711" y2="253.7"/>
<rect x="600.7" y="183.2" width="40.2" height="72.7"/>
<line x1="600.7" y1="217.5" x2="640.9" y2="217.5"/>
<line x1="366.9" y1="272" x2="733" y2="272"/>
<path d="M393.6,152.4 L382.4,152.4 A3,3 0 0 0 382.4,158.4 L393.6,158.4"/>
<line x1="382.4" y1="155.4" x2="399.9" y2="155.4"/>
<path d="M709.4,152.4 L720.6,152.4 A3,3 0 0 1 720.6,158.4 L709.4,158.4"/>
<line x1="703.1" y1="155.4" x2="720.6" y2="155.4"/>
<path d="M393.6,158.4 L382.45,158.4 A3.05,3.05 0 0 0 382.45,164.5 L393.6,164.5"/>
<line x1="382.45" y1="161.45" x2="399.9" y2="161.45"/>
<path d="M709.4,158.4 L720.55,158.4 A3.05,3.05 0 0 1 720.55,164.5 L709.4,164.5"/>
<line x1="703.1" y1="161.45" x2="720.55" y2="161.45"/>
<path d="M366.1,205.9 A13.6,13.6 0 0 1 393.3,205.9 L393.3,241.4 A13.6,13.6 0 0 1 366.1,241.4 Z"/>
<path d="M366.1,209.6 A13.6,13.6 0 0 1 393.3,209.6"/>
<path d="M366.1,213.3 A13.6,13.6 0 0 1 393.3,213.3"/>
<path d="M366.1,217 A13.6,13.6 0 0 1 393.3,217"/>
<circle cx="379.7" cy="236.8" r="12.6"/>
<circle cx="379.7" cy="238" r="9.6"/>
<circle cx="379.7" cy="238.3" r="6.4"/>
<circle cx="379.7" cy="238.3" r="4.4"/>
<path d="M710.9,205.4 A13.6,13.6 0 0 1 738.1,205.4 L738.1,240.9 A13.6,13.6 0 0 1 710.9,240.9 Z"/>
<path d="M710.9,209.1 A13.6,13.6 0 0 1 738.1,209.1"/>
<path d="M710.9,212.8 A13.6,13.6 0 0 1 738.1,212.8"/>
<path d="M710.9,216.5 A13.6,13.6 0 0 1 738.1,216.5"/>
<circle cx="724.5" cy="236.8" r="12.6"/>
<circle cx="724.5" cy="238" r="9.6"/>
<circle cx="724.5" cy="238.3" r="6.4"/>
<circle cx="724.5" cy="238.3" r="4.4"/>
<path d="M282.1,230.6 L349.9,230.6 L349.9,250.7 L282.1,250.7 Q277.3,248 277.3,240.7 Q277.3,233.3 282.1,230.6 Z"/>
<line x1="282.1" y1="230.6" x2="282.1" y2="250.7"/>
<rect x="349.9" y="236.7" width="5.7" height="10.5"/>
<rect x="355.6" y="218.9" width="4.8" height="35.6"/>
<line x1="272" y1="240.7" x2="362" y2="240.7" stroke-dasharray="2.5,1.5"/>
<path d="M361.7,232.7 L365.5,232.7 L365.5,270 Q365.5,274.4 361,274.4 L330,274.4 Q328.4,274.4 328.4,272 Q328.4,269.8 330,269.8 L353,269.8 Q360.9,269.8 360.9,262 L360.9,232.7 Z"/>
<rect x="749.2" y="229.4" width="71.1" height="20.5"/>
<rect x="820.3" y="229.4" width="4" height="20.5"/>
<rect x="743.6" y="236.2" width="5.6" height="9.7"/>
<line x1="741" y1="241" x2="829" y2="241" stroke-dasharray="2.5,1.5"/>
<rect x="784" y="250.7" width="33.9" height="17"/>
<line x1="787.2" y1="250.7" x2="787.2" y2="267.7"/>
<line x1="791.2" y1="250.7" x2="791.2" y2="267.7"/>
<line x1="811.4" y1="250.7" x2="811.4" y2="267.7"/>
<line x1="815.5" y1="250.7" x2="815.5" y2="267.7"/>
<rect x="781" y="254" width="3" height="9.7" rx="1.2"/>
<rect x="817.9" y="254" width="2.9" height="9.7" rx="1.2"/>
<line x1="778.3" y1="258" x2="822.7" y2="258"/>
<path d="M738.4,219.2 L743.6,219.2 L743.6,262 Q743.6,267.7 750,267.7 L772,267.7 Q773.5,267.7 773.5,270 Q773.5,272.5 772,272.5 L745,272.5 Q738.4,272.5 738.4,266 Z"/>
<line x1="780.7" y1="272" x2="840" y2="272"/>
<line x1="717" y1="85.1" x2="847" y2="85.1"/>
<line x1="840" y1="88.5" x2="840" y2="271.7"/>
<polygon points="840,85.5 838,90.7 842,90.7" fill="#222" stroke="none"/>
<polygon points="840,272 838,266.8 842,266.8" fill="#222" stroke="none"/>
<text x="834.5" y="180" font-size="15" text-anchor="middle" letter-spacing="0.6" transform="rotate(-90 834.5 180)">292</text>
<line x1="342.4" y1="256" x2="342.4" y2="298.4"/>
<line x1="761" y1="256.4" x2="761" y2="296.8"/>
<line x1="345.7" y1="290.6" x2="757.3" y2="290.6"/>
<polygon points="345.7,290.6 350.9,288.6 350.9,292.6" fill="#222" stroke="none"/>
<polygon points="757.3,290.6 752.1,288.6 752.1,292.6" fill="#222" stroke="none"/>
<text x="551.8" y="288.2" font-size="15" text-anchor="middle">C</text>
<line x1="326.1" y1="276.3" x2="326.1" y2="328"/>
<line x1="824.3" y1="250" x2="824.3" y2="320"/>
<line x1="330" y1="314.3" x2="821" y2="314.3"/>
<polygon points="330,314.3 335.2,312.3 335.2,316.3" fill="#222" stroke="none"/>
<polygon points="821,314.3 815.8,312.3 815.8,316.3" fill="#222" stroke="none"/>
<text x="575.6" y="311.6" font-size="15" text-anchor="middle">A</text></g></svg>
</body></html>
